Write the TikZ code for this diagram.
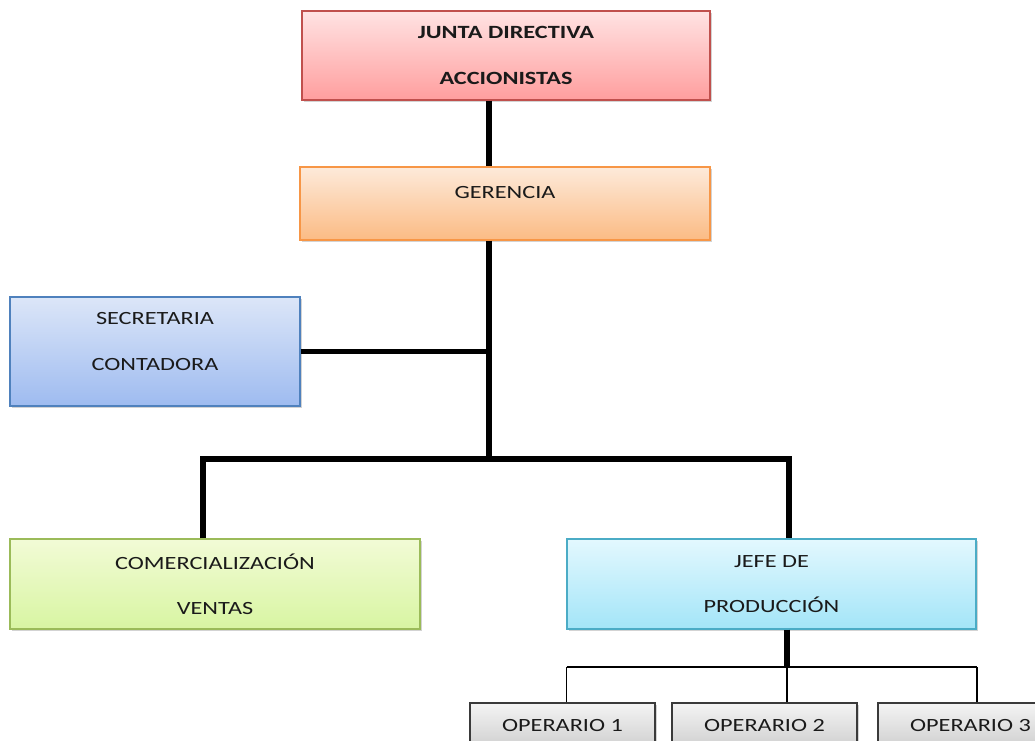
\documentclass[tikz,border=0pt]{standalone}
\usepackage{fontspec}
\setmainfont{Carlito}[FakeStretch=1.3]
\usetikzlibrary{positioning, shadows}
\definecolor{clrjuntatop}{HTML}{FFE3E3}
\definecolor{clrjuntabot}{HTML}{FF9E9E}
\definecolor{clrjuntaline}{HTML}{C0504D}
\definecolor{clrgertop}{HTML}{FDEADA}
\definecolor{clrgerbot}{HTML}{FBBB84}
\definecolor{clrgerline}{HTML}{F79646}
\definecolor{clrsectop}{HTML}{DCE6F8}
\definecolor{clrsecbot}{HTML}{9EBBF0}
\definecolor{clrsecline}{HTML}{4F81BD}
\definecolor{clrcomtop}{HTML}{F2FBD6}
\definecolor{clrcombot}{HTML}{D8F5A2}
\definecolor{clrcomline}{HTML}{9BBB59}
\definecolor{clrjefetop}{HTML}{E3F8FE}
\definecolor{clrjefebot}{HTML}{A3E5F8}
\definecolor{clrjefeline}{HTML}{4BACC6}
\definecolor{clroptop}{HTML}{F4F4F4}
\definecolor{clropbot}{HTML}{CFCFCF}
\definecolor{clropline}{HTML}{3A3A3A}
\definecolor{clrtext}{HTML}{1A1A1A}

\begin{document}
\begin{tikzpicture}[
    x=0.75pt, y=-0.75pt,
    every node/.style={font=\fontsize{14}{17}\selectfont, text=clrtext},
    box/.style={draw, line width=0.8pt, align=center, inner sep=0pt,
                drop shadow={shadow xshift=1.2pt, shadow yshift=-1.5pt, opacity=0.35}},
    opbox/.style={box, draw=clropline, top color=clroptop, bottom color=clropbot,
                  minimum width=138.75pt, minimum height=33.75pt},
    link/.style={line width=3.8pt, color=black},
    buslink/.style={line width=2.2pt, color=black},
    droplink/.style={line width=1.1pt, color=black},
]
\useasboundingbox (0,0) rectangle (1035,740);
\node[box, draw=clrjuntaline, top color=clrjuntatop, bottom color=clrjuntabot, minimum width=306pt, minimum height=66.75pt, font=\fontsize{14}{17}\selectfont\bfseries] (junta) at (506,55.5) {JUNTA DIRECTIVA\\[17pt]ACCIONISTAS};
\node[box, draw=clrgerline, top color=clrgertop, bottom color=clrgerbot, minimum width=307.5pt, minimum height=54.75pt, text depth=17pt] (gerencia) at (505,203.5) {GERENCIA};
\node[box, draw=clrsecline, top color=clrsectop, bottom color=clrsecbot, minimum width=217.5pt, minimum height=81.75pt, text depth=15pt] (secretaria) at (155,351.5) {SECRETARIA\\[17pt]CONTADORA};
\node[box, draw=clrcomline, top color=clrcomtop, bottom color=clrcombot, minimum width=307.5pt, minimum height=67.5pt] (comercial) at (215,584) {COMERCIALIZACIÓN\\[17pt]VENTAS};
\node[box, draw=clrjefeline, top color=clrjefetop, bottom color=clrjefebot, minimum width=306.75pt, minimum height=67.5pt] (jefe) at (771.5,584) {JEFE DE\\[17pt]PRODUCCIÓN};
\node[opbox] (op_1) at (562.5,725.5) {OPERARIO 1};
\node[opbox] (op_2) at (764.5,725.5) {OPERARIO 2};
\node[opbox] (op_3) at (970.5,725.5) {OPERARIO 3};
% junctions
\coordinate (spine) at (489,459);
\coordinate (bus_l) at (203,459);
\coordinate (bus_r) at (789,459);
\coordinate (opbus) at (787,667);
\draw[link] (junta.south -| spine) -- (gerencia.north -| spine);
\draw[link] (gerencia.south -| spine) -- (spine);
\draw[link] (secretaria.east) -- (secretaria.east -| spine);
\draw[link] (comercial.north -| bus_l) -- (bus_l) -- (bus_r) -- (jefe.north -| bus_r);
\draw[link] (jefe.south -| opbus) -- (opbus);
\draw[buslink] ([xshift=3pt]op_1.north |- opbus) -- ([xshift=5pt]op_3.north |- opbus);
\draw[droplink] ([xshift=3pt]op_1.north) -- ([xshift=3pt]op_1.north |- opbus);
\draw[droplink] (op_2.north -| opbus) -- (opbus);
\draw[droplink] ([xshift=5pt]op_3.north) -- ([xshift=5pt]op_3.north |- opbus);
\end{tikzpicture}
\end{document}
